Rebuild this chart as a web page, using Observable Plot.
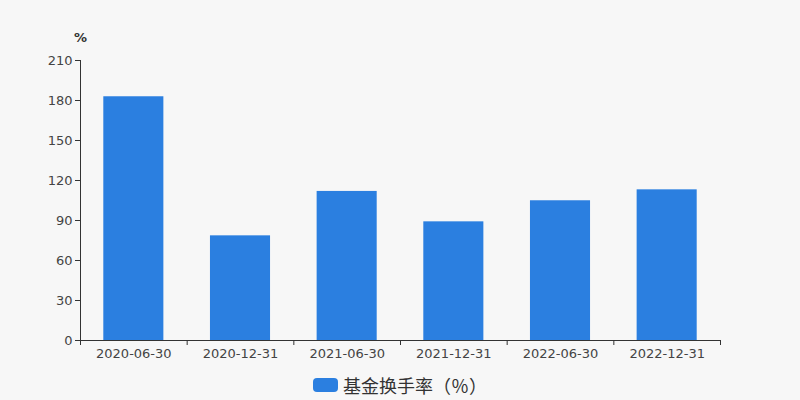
<!DOCTYPE html>
<html lang="zh-CN">
<head>
<meta charset="utf-8">
<script src="https://cdn.jsdelivr.net/npm/d3@7"></script>
<script src="https://cdn.jsdelivr.net/npm/@observablehq/plot@0.6"></script>
<style>
  html, body { margin: 0; padding: 0; background: #f7f7f7; }
  #wrap { width: 800px; height: 400px; position: relative; font-family: "Noto Sans CJK SC", "Liberation Sans", sans-serif; }
  #legend { position: absolute; left: 0; top: 372px; width: 800px; display: flex; justify-content: center; align-items: center; font-size: 18px; line-height: 26px; color: #333; }
  #legend .sw { width: 25px; height: 14px; border-radius: 4px; background: #2b7fe0; margin-right: 5px; }
  #legend .t { font-family: "Noto Sans CJK SC", sans-serif; font-feature-settings: "fwid" 1; }
</style>
</head>
<body>
<div id="wrap">
  <div id="chart"></div>
  <div id="legend"><span class="sw"></span><span class="t">基金换手率（%）</span></div>
</div>
<script>
const categories = ["2020-06-30", "2020-12-31", "2021-06-30", "2021-12-31", "2022-06-30", "2022-12-31"];
const values = [182.8, 78.5, 111.8, 89.0, 104.8, 113.0];
const yTicks = [0, 30, 60, 90, 120, 150, 180, 210];
const unitLabel = "%";

const data = categories.map((c, i) => ({ i, c, v: values[i] }));
const boundaries = d3.range(categories.length + 1);

const chart = Plot.plot({
  width: 800,
  height: 362,
  marginLeft: 80,
  marginRight: 80,
  marginTop: 60,
  marginBottom: 22,
  style: { background: "transparent", fontFamily: "'DejaVu Sans', 'Liberation Sans', sans-serif", fontSize: "13px", color: "#444" },
  x: { type: "linear", domain: [0, categories.length], axis: null },
  y: { domain: [0, 210], axis: null },
  marks: [
    Plot.rectY(data, { x1: d => d.i, x2: d => d.i + 1, y1: 0, y2: "v", fill: "#2b7fe0", insetLeft: 23.3, insetRight: 23.3 }),
    Plot.ruleY([0], { stroke: "#333" }),
    Plot.ruleX([0], { stroke: "#333" }),
    Plot.axisY({ ticks: yTicks, tickSize: 5, tickPadding: 3, stroke: "#333", fill: "#444", label: null, fontSize: 13 }),
    Plot.ruleX(boundaries, { x: d => d, y1: 0, y2: 0, insetBottom: -5, stroke: "#333" }),
    Plot.text(data, { x: d => d.i + 0.5, y: 0, text: "c", dy: 13, fill: "#444", fontSize: 13 }),
    Plot.text([unitLabel], { frameAnchor: "top-left", dy: -28, textAnchor: "middle", fill: "#333", fontSize: 13, fontWeight: "bold" })
  ]
});
document.getElementById("chart").appendChild(chart);
</script>
</body>
</html>
